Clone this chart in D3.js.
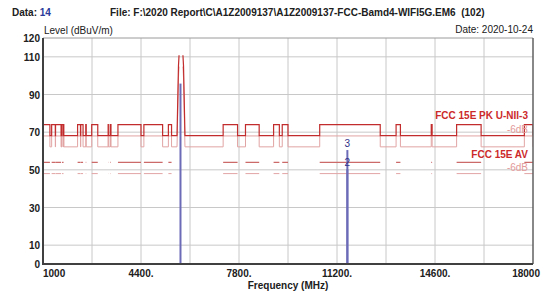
<!DOCTYPE html>
<html>
<head>
<meta charset="utf-8">
<script src="https://cdn.jsdelivr.net/npm/d3@7"></script>
<style>
  body { margin: 0; background: #fff; }
  svg { display: block; font-family: Arial, "Liberation Sans", sans-serif; }
</style>
</head>
<body>
<div id="chart"></div>
<script>
(function () {

  // restricted bands (MHz) where the limit steps up
  const restrictedBands = [
    [1000, 1240], [1300, 1427], [1435, 1626.5], [1645.5, 1646.5], [1660, 1710],
    [1718.8, 1722.2], [2200, 2300], [2310, 2390], [2483.5, 2500], [2690, 2900],
    [3260, 3267], [3332, 3339], [3345.8, 3358], [3600, 4400], [4500, 5150],
    [5350, 5460], [7250, 7750], [8025, 8500], [9000, 9200], [9300, 9500],
    [10600, 12700], [13250, 13400], [14470, 14500], [15350, 16200], [17700, 18000]
  ]
  const pkHigh = 74
  const pkLow = 68.2
  const avLevel = 54
  const marginDb = 6
  // U-NII-3 band edge mask
  const maskLeft = [[5650, 68.2], [5700, 105.2], [5720, 110.8]]
  const maskRight = [[5855, 110.8], [5875, 105.2], [5925, 68.2]]

  const markerFreqs = [5770, 11560, 11560]
  const markerLevels = [95.8, 50.3, 60.5]
  const markerLabels = ["", "2", "3"]

  const yTicks = [0, 10, 30, 50, 70, 90, 110, 120]
  const yGrid = [10, 30, 50, 70, 90, 110]
  const xTicks = [1000, 4400, 7800, 11200, 14600, 18000]
  const xTickLabels = ["1000", "4400.", "7800.", "11200.", "14600.", "18000"]
  const xGrid = d3.range(11).map(i => 1000 + i * 1700)

  const margin = { top: 38, right: 16, bottom: 27, left: 43 }
  const width = 549 - margin.left - margin.right
  const height = 291 - margin.top - margin.bottom

  const root = d3.select("#chart").append("svg")
      .attr("width", 549)
      .attr("height", 291)

  const svg = root.append("g")
      .attr("transform", "translate(" + margin.left + "," + margin.top + ")")

  const x = d3.scaleLinear().domain([1000, 18000]).range([0, width])
  const y = d3.scaleLinear().domain([0, 120]).range([height, 0])

  svg.append("defs").append("clipPath").attr("id", "plot")
    .append("rect").attr("width", width).attr("height", height)

  // grid
  svg.append("g").selectAll("line").data(xGrid.slice(1, -1)).enter().append("line")
    .attr("x1", d => x(d)).attr("x2", d => x(d))
    .attr("y1", 0).attr("y2", height)
    .attr("stroke", "#c8c8c8")
  svg.append("g").selectAll("line").data(yGrid).enter().append("line")
    .attr("x1", 0).attr("x2", width)
    .attr("y1", d => y(d)).attr("y2", d => y(d))
    .attr("stroke", "#c8c8c8")

  // step line through the restricted bands
  function steps (from, to, high, low) {
    const pts = [[from, low]]
    restrictedBands.filter(b => b[0] >= from && b[1] <= to).forEach(b => {
      pts.push([b[0], low], [b[0], high], [b[1], high], [b[1], low])
    })
    pts.push([to, low])
    return pts
  }

  function pkPoints (off) {
    return steps(1000, 5650, pkHigh - off, pkLow - off)
      .concat(maskLeft.map(d => [d[0], d[1] - off]))
      .concat([null])
      .concat(maskRight.map(d => [d[0], d[1] - off]))
      .concat(steps(5925, 18000, pkHigh - off, pkLow - off))
  }

  function avPoints (level) {
    const pts = []
    restrictedBands.forEach(b => { pts.push([b[0], level], [b[1], level], null) })
    return pts
  }

  const line = d3.line()
    .defined(d => d !== null)
    .x(d => x(d[0]))
    .y(d => y(d[1]))

  const plot = svg.append("g").attr("clip-path", "url(#plot)")

  plot.append("path").datum(avPoints(avLevel - marginDb))
    .attr("d", line).attr("fill", "none").attr("stroke", "#e2a4a4").attr("stroke-width", 1)
  plot.append("path").datum(avPoints(avLevel))
    .attr("d", line).attr("fill", "none").attr("stroke", "#cc6a6a").attr("stroke-width", 1.2)
  plot.append("path").datum(pkPoints(marginDb))
    .attr("d", line).attr("fill", "none").attr("stroke", "#e2a4a4").attr("stroke-width", 1)
  plot.append("path").datum(pkPoints(0))
    .attr("d", line).attr("fill", "none").attr("stroke", "#c22c2c").attr("stroke-width", 1.2)

  // markers
  plot.selectAll(".marker").data(markerFreqs).enter().append("line")
    .attr("class", "marker")
    .attr("x1", d => x(d)).attr("x2", d => x(d))
    .attr("y1", height)
    .attr("y2", (d, i) => y(markerLevels[i]))
    .attr("stroke", "#6b6bb8")
    .attr("stroke-width", 2)

  svg.selectAll(".mlabel").data(markerFreqs).enter().append("text")
    .attr("x", d => x(d))
    .attr("y", (d, i) => y(markerLevels[i]) - 3)
    .attr("text-anchor", "middle")
    .attr("font-size", 10)
    .attr("fill", "#303088")
    .text((d, i) => markerLabels[i])

  // limit labels
  const labels = [
    { t: "FCC 15E PK U-NII-3", v: 77, c: "#cc2a2a", w: "bold" },
    { t: "-6dB", v: 69.5, c: "#e39a9a", w: "normal" },
    { t: "FCC 15E AV", v: 56.5, c: "#cc2a2a", w: "bold" },
    { t: "-6dB", v: 49.5, c: "#e39a9a", w: "normal" }
  ]
  svg.selectAll(".llabel").data(labels).enter().append("text")
    .attr("x", width - 5)
    .attr("y", d => y(d.v))
    .attr("text-anchor", "end")
    .attr("font-size", 10)
    .attr("font-weight", d => d.w)
    .attr("fill", d => d.c)
    .text(d => d.t)

  // frame
  svg.append("line").attr("x1", 0).attr("x2", width).attr("y1", 0).attr("y2", 0)
    .attr("stroke", "#9a9a9a")
  svg.append("line").attr("x1", width).attr("x2", width).attr("y1", 0).attr("y2", height)
    .attr("stroke", "#606060").attr("stroke-width", 1.5)
  svg.append("line").attr("x1", 0).attr("x2", 0).attr("y1", 0).attr("y2", height + 1)
    .attr("stroke", "#404040").attr("stroke-width", 2)
  svg.append("line").attr("x1", 0).attr("x2", width).attr("y1", height).attr("y2", height)
    .attr("stroke", "#404040").attr("stroke-width", 2)

  // axis labels
  svg.selectAll(".ytick").data(yTicks).enter().append("text")
    .attr("x", -3)
    .attr("y", d => y(d) + 4)
    .attr("text-anchor", "end")
    .attr("font-size", 10)
    .attr("font-weight", "bold")
    .attr("fill", "#202020")
    .text(d => d)

  svg.selectAll(".xtick").data(xTicks).enter().append("text")
    .attr("x", (d, i) => x(d) + (i === xTicks.length - 1 ? 7 : 0))
    .attr("y", height + 13)
    .attr("text-anchor", (d, i) => i === 0 ? "start" : (i === xTicks.length - 1 ? "end" : "middle"))
    .attr("font-size", 10)
    .attr("font-weight", "bold")
    .attr("fill", "#202020")
    .text((d, i) => xTickLabels[i])

  svg.append("text")
    .attr("x", width / 2)
    .attr("y", height + 25)
    .attr("text-anchor", "middle")
    .attr("font-size", 10)
    .attr("font-weight", "bold")
    .attr("fill", "#202020")
    .text("Frequency (MHz)")

  svg.append("text")
    .attr("x", 1)
    .attr("y", -4)
    .attr("font-size", 10)
    .attr("fill", "#202020")
    .text("Level (dBuV/m)")

  svg.append("text")
    .attr("x", width)
    .attr("y", -5)
    .attr("text-anchor", "end")
    .attr("font-size", 10)
    .attr("fill", "#202020")
    .text("Date: 2020-10-24")

  // header
  const head = root.append("text")
    .attr("x", 12)
    .attr("y", 16)
    .attr("font-size", 10)
    .attr("font-weight", "bold")
    .attr("fill", "#202020")
  head.append("tspan").text("Data: ")
  head.append("tspan").attr("fill", "#2a3a9a").text("14")

  root.append("text")
    .attr("x", 110)
    .attr("y", 16)
    .attr("font-size", 10)
    .attr("font-weight", "bold")
    .attr("fill", "#202020")
    .attr("xml:space", "preserve")
    .text("File: F:\\2020 Report\\C\\A1Z2009137\\A1Z2009137-FCC-Bamd4-WIFI5G.EM6  (102)")

})();
</script>
</body>
</html>
